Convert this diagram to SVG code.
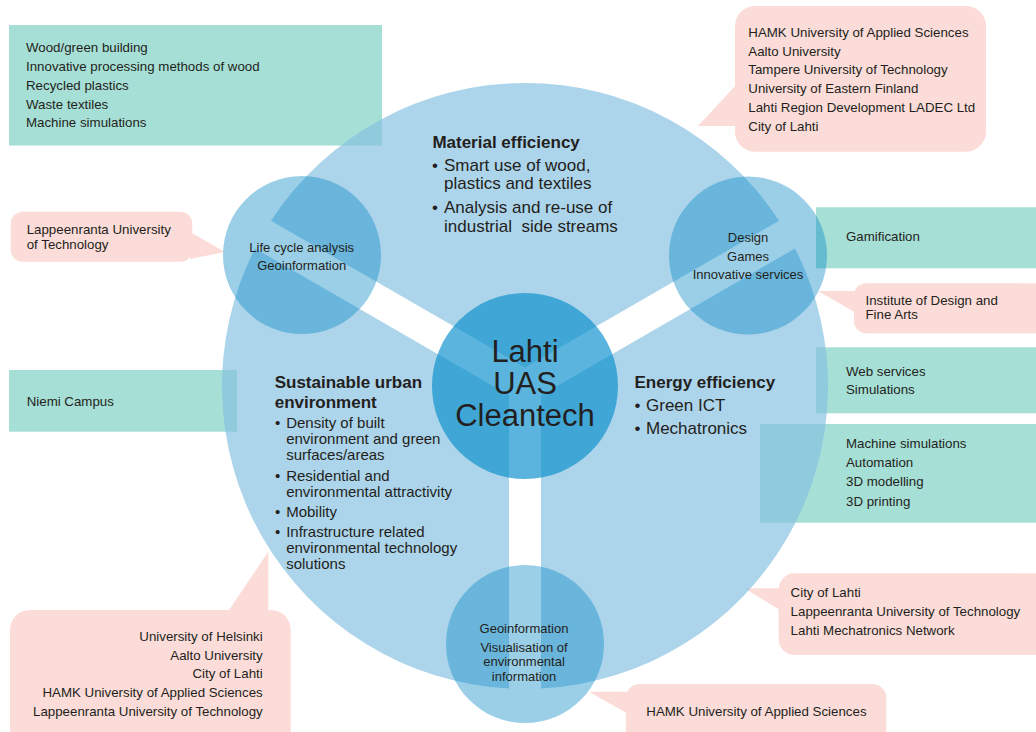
<svg xmlns="http://www.w3.org/2000/svg" width="1036" height="732" viewBox="0 0 1036 732">
  <defs>
    <style>
      text { font-family: "Liberation Sans", Arial, sans-serif; fill: #231f20; }
      .green { fill: #a6dfd6; }
      .pink { fill: #fbdcd8; }
      .sector { fill: #85c0e0; fill-opacity: 0.68; }
      .sub { fill: #0587c5; fill-opacity: 0.4; }
      .hub { fill: #098fcc; fill-opacity: 0.67; }
      .t13 { font-size: 13.3px; }
      .tc { font-size: 13px; text-anchor: middle; }
      .head { font-size: 17px; font-weight: bold; }
      .b17 { font-size: 17px; }
      .b15 { font-size: 15px; }
      .hubtxt { font-size: 31px; text-anchor: middle; }
    </style>
  </defs>

  <rect width="1036" height="732" fill="#ffffff"/>

  <!-- green topic boxes -->
  <g id="box-materials">
    <rect class="green" x="9" y="25" width="373" height="120.5"/>
    <text class="t13" x="26" y="51.7">Wood/green building</text>
    <text class="t13" x="26" y="70.7">Innovative processing methods of wood</text>
    <text class="t13" x="26" y="89.7">Recycled plastics</text>
    <text class="t13" x="26" y="108.7">Waste textiles</text>
    <text class="t13" x="26" y="127.3">Machine simulations</text>
  </g>
  <g id="box-gamification">
    <rect class="green" x="816" y="207.3" width="220" height="61"/>
    <text class="t13" x="846" y="240.7">Gamification</text>
  </g>
  <g id="box-web">
    <rect class="green" x="816" y="347.3" width="220" height="66"/>
    <text class="t13" x="846" y="375.7">Web services</text>
    <text class="t13" x="846" y="394.3">Simulations</text>
  </g>
  <g id="box-machine">
    <rect class="green" x="760" y="424" width="276" height="98.7"/>
    <text class="t13" x="846" y="448.3">Machine simulations</text>
    <text class="t13" x="846" y="467.3">Automation</text>
    <text class="t13" x="846" y="486">3D modelling</text>
    <text class="t13" x="846" y="505.7">3D printing</text>
  </g>
  <g id="box-niemi">
    <rect class="green" x="9" y="370" width="228" height="61.7"/>
    <text class="t13" x="26.7" y="405.7">Niemi Campus</text>
  </g>

  <!-- callout pointers -->
  <g id="connectors">
    <polygon class="pink" points="736,85 698,126 736,126"/>
    <polygon class="pink" points="190,232 225,252 190,259"/>
    <polygon class="pink" points="856,291 818,291 856,313"/>
    <polygon class="pink" points="780,588.3 744.4,588.3 780,610"/>
    <polygon class="pink" points="627,691.7 589,691.7 627,713.3"/>
    <polygon class="pink" points="228.3,611 268.3,551.7 268.3,611"/>
  </g>

  <!-- partner callouts -->
  <g id="partners-material">
    <rect class="pink" x="735" y="6" width="251" height="145.7" rx="20"/>
    <text class="t13" x="748.3" y="36.7">HAMK University of Applied Sciences</text>
    <text class="t13" x="748.3" y="55.7">Aalto University</text>
    <text class="t13" x="748.3" y="74">Tampere University of Technology</text>
    <text class="t13" x="748.3" y="93.3">University of Eastern Finland</text>
    <text class="t13" x="748.3" y="112">Lahti Region Development LADEC Ltd</text>
    <text class="t13" x="748.3" y="130.7">City of Lahti</text>
  </g>
  <g id="partners-lifecycle">
    <rect class="pink" x="10.7" y="211.7" width="181.6" height="50" rx="12"/>
    <text class="t13" x="26.7" y="234">Lappeenranta University</text>
    <text class="t13" x="26.7" y="248.7">of Technology</text>
  </g>
  <g id="partners-design">
    <rect class="pink" x="854" y="283.3" width="200" height="50" rx="12"/>
    <text class="t13" x="865.5" y="305">Institute of Design and</text>
    <text class="t13" x="865.5" y="319.3">Fine Arts</text>
  </g>
  <g id="partners-energy">
    <rect class="pink" x="778.6" y="573.3" width="280" height="81.7" rx="16"/>
    <text class="t13" x="790.6" y="597.3">City of Lahti</text>
    <text class="t13" x="790.6" y="616">Lappeenranta University of Technology</text>
    <text class="t13" x="790.6" y="635">Lahti Mechatronics Network</text>
  </g>
  <g id="partners-geo">
    <rect class="pink" x="625.8" y="684" width="260.5" height="70" rx="14"/>
    <text class="t13" x="646.3" y="716">HAMK University of Applied Sciences</text>
  </g>
  <g id="partners-urban">
    <rect class="pink" x="10" y="610" width="280.7" height="140" rx="20"/>
    <g style="text-anchor:end">
      <text class="t13" x="262.7" y="641">University of Helsinki</text>
      <text class="t13" x="262.7" y="660">Aalto University</text>
      <text class="t13" x="262.7" y="678.3">City of Lahti</text>
      <text class="t13" x="262.7" y="697.3">HAMK University of Applied Sciences</text>
      <text class="t13" x="262.7" y="716">Lappeenranta University of Technology</text>
    </g>
  </g>

  <!-- three focus-area sectors of the main disc, split by a Y-shaped gap -->
  <g id="sector-material">
    <path class="sector" d="M525 367.5 L271 220.8 A303 303 0 0 1 779 220.8 Z"/>
    <text class="head" x="432.4" y="148.3">Material efficiency</text>
    <text class="b17" x="432" y="170.7">•</text>
    <text class="b17" x="444" y="170.7">Smart use of wood,</text>
    <text class="b17" x="444" y="189.3">plastics and textiles</text>
    <text class="b17" x="432" y="213.3">•</text>
    <text class="b17" x="444" y="213.3">Analysis and re-use of</text>
    <text class="b17" x="444" y="231.7" xml:space="preserve">industrial  side streams</text>
  </g>
  <g id="sector-urban">
    <path class="sector" d="M509 395.2 L255 248.5 A303 303 0 0 0 509 688.6 Z"/>
    <text class="head" x="274.7" y="387.7">Sustainable urban</text>
    <text class="head" x="274.7" y="407.7">environment</text>
    <text class="b15" x="275" y="427.7">•</text>
    <text class="b15" x="286.2" y="427.7">Density of built</text>
    <text class="b15" x="286.2" y="444">environment and green</text>
    <text class="b15" x="286.2" y="460">surfaces/areas</text>
    <text class="b15" x="275" y="480.7">•</text>
    <text class="b15" x="286.2" y="480.7">Residential and</text>
    <text class="b15" x="286.2" y="496.7">environmental attractivity</text>
    <text class="b15" x="275" y="516.7">•</text>
    <text class="b15" x="286.2" y="516.7">Mobility</text>
    <text class="b15" x="275" y="536.7">•</text>
    <text class="b15" x="286.2" y="536.7">Infrastructure related</text>
    <text class="b15" x="286.2" y="553.3">environmental technology</text>
    <text class="b15" x="286.2" y="569.3">solutions</text>
  </g>
  <g id="sector-energy">
    <path class="sector" d="M541 395.2 L541 688.6 A303 303 0 0 0 795 248.5 Z"/>
    <text class="head" x="634.5" y="387.7">Energy efficiency</text>
    <text class="b17" x="634.5" y="410.7">•</text>
    <text class="b17" x="646" y="410.7">Green ICT</text>
    <text class="b17" x="634.5" y="434">•</text>
    <text class="b17" x="646" y="434">Mechatronics</text>
  </g>

  <!-- satellite theme circles -->
  <g id="theme-lifecycle">
    <circle class="sub" cx="302" cy="255" r="79"/>
    <text class="tc" x="301.7" y="251.7">Life cycle analysis</text>
    <text class="tc" x="301.7" y="270.3">Geoinformation</text>
  </g>
  <g id="theme-design">
    <circle class="sub" cx="748" cy="255.5" r="79"/>
    <text class="tc" x="748" y="241.7">Design</text>
    <text class="tc" x="748" y="260.7">Games</text>
    <text class="tc" x="748" y="279.3">Innovative services</text>
  </g>
  <g id="theme-geo">
    <circle class="sub" cx="525" cy="644" r="79"/>
    <text class="tc" x="524" y="632.7">Geoinformation</text>
    <text class="tc" x="524" y="651.7">Visualisation of</text>
    <text class="tc" x="524" y="666">environmental</text>
    <text class="tc" x="524" y="680.7">information</text>
  </g>

  <!-- central hub -->
  <g id="hub">
    <circle class="hub" cx="525" cy="386" r="93"/>
    <text class="hubtxt" x="525" y="362">Lahti</text>
    <text class="hubtxt" x="525" y="394">UAS</text>
    <text class="hubtxt" x="525" y="425.7">Cleantech</text>
  </g>
</svg>
